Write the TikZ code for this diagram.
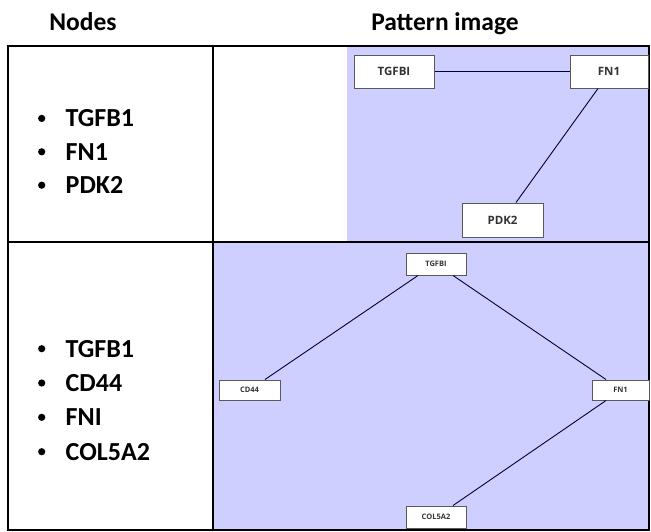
\documentclass[tikz,border=0pt]{standalone}
\usepackage{fontspec}
\setmainfont{Carlito}
\newfontfamily\boxfont{Open Sans}
\begin{document}
\begin{tikzpicture}[x=1pt,y=-1pt,
  gbox/.style={draw=black!65, fill=white, line width=1pt, inner sep=0pt, text=black!80},
  bigtxt/.style={font=\boxfont\fontsize{11.5}{13}\selectfont\bfseries},
  smtxt/.style={font=\boxfont\fontsize{7.5}{9}\selectfont\bfseries},
  gedge/.style={draw=black!65!blue!60!black, line width=0.9pt},
  hdr/.style={font=\fontsize{25.5}{30}\selectfont\bfseries, anchor=base, inner sep=0pt},
  item/.style={font=\fontsize{26}{31}\selectfont\bfseries, anchor=base west, inner sep=0pt},
  bul/.style={fill=black}]
\useasboundingbox (0,0) rectangle (651,531);
\fill[white] (0,0) rectangle (651,531);
% shaded areas
\fill[blue!19!white] (347,47) rectangle (649,242);
\fill[blue!19!white] (214,243) rectangle (649,529);
% headers
\node[hdr] (h1) at (83,30) {Nodes};
\node[hdr] (h2) at (445,30) {Pattern image};
% table lines
\draw[line width=1.6pt] (8,46) rectangle (649,530);
\draw[line width=1.4pt] (213,46) -- (213,530);
\draw[line width=1.8pt] (8,242) -- (649,242);
% lists
\foreach \t/\y in {TGFB1/126.7, FN1/160.1, PDK2/193.5, TGFB1/357, CD44/391.3, FNI/425.6, COL5A2/460}{
  \fill[bul] (41.7,\y-8.3) circle (3.6pt);
  \node[item] at (65.5,\y) {\t};
}
% top graph
\node[gbox, bigtxt, minimum width=80pt, minimum height=33pt] (a1) at (394,71.5) {TGFBI};
\node[gbox, bigtxt, minimum width=78pt, minimum height=33pt] (a2) at (609,71.5) {FN1};
\node[gbox, bigtxt, minimum width=81pt, minimum height=34pt] (a3) at (502.5,220) {PDK2};
\draw[gedge] (a1.east) -- (a2.west);
\path (a2.south) ++(-11,0) coordinate (a2s);
\path (a3.north) ++(13.5,0) coordinate (a3n);
\draw[gedge] (a2s) -- (a3n);
% bottom graph
\node[gbox, smtxt, minimum width=60pt, minimum height=22pt] (b1) at (436,264) {TGFBI};
\node[gbox, smtxt, minimum width=61pt, minimum height=20pt] (b2) at (249.5,390) {CD44};
\node[gbox, smtxt, minimum width=57pt, minimum height=20pt] (b3) at (620.5,390) {FN1};
\node[gbox, smtxt, minimum width=60pt, minimum height=22pt] (b4) at (436,517) {COL5A2};
\path (b1.south) ++(-18,0) coordinate (b1l);
\path (b1.south) ++(17,0) coordinate (b1r);
\path (b2.north) ++(15.5,0) coordinate (b2t);
\path (b3.north) ++(-14.5,0) coordinate (b3t);
\path (b3.south) ++(-14.5,0) coordinate (b3b);
\path (b4.north) ++(17,0) coordinate (b4t);
\draw[gedge] (b1l) -- (b2t);
\draw[gedge] (b1r) -- (b3t);
\draw[gedge] (b3b) -- (b4t);
\end{tikzpicture}
\end{document}
